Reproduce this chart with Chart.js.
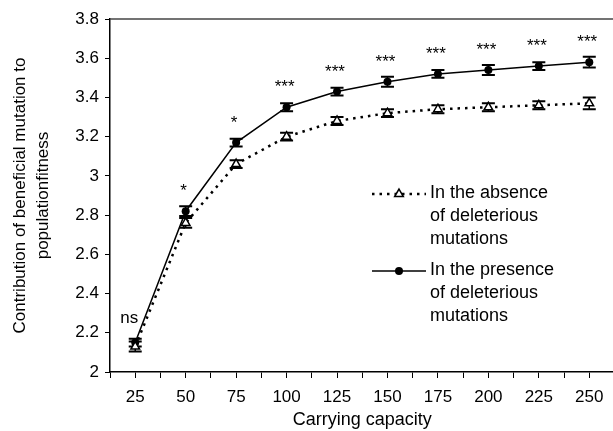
<!DOCTYPE html>
<html>
<head>
<meta charset="utf-8">
<script src="https://cdn.jsdelivr.net/npm/chart.js@4.4.1/dist/chart.umd.min.js"></script>
<style>
  html, body { margin: 0; padding: 0; background: #fff; overflow: hidden; }
  /* the original figure is cut off just before the right end of the x axis */
  #wrap { width: 613px; height: 431px; overflow: hidden; }
</style>
</head>
<body>
<div id="wrap"><canvas id="myChart" width="621" height="431"></canvas></div>
<script>
// data
const capacity = [25, 50, 75, 100, 125, 150, 175, 200, 225, 250];
const absence = [2.13, 2.76, 3.06, 3.20, 3.28, 3.32, 3.34, 3.35, 3.36, 3.37];
const absenceErr = [0.025, 0.025, 0.02, 0.02, 0.02, 0.02, 0.02, 0.02, 0.02, 0.03];
const presence = [2.15, 2.82, 3.17, 3.35, 3.43, 3.48, 3.52, 3.54, 3.56, 3.58];
const presenceErr = [0.02, 0.025, 0.02, 0.02, 0.02, 0.025, 0.02, 0.025, 0.02, 0.027];
const significance = ["ns", "*", "*", "***", "***", "***", "***", "***", "***", "***"];
const legendText = [
  ["In the absence", "of deleterious", "mutations"],
  ["In the presence", "of deleterious", "mutations"],
];
const yTitle = ["Contribution of beneficial mutation to", "populationfitness"];
const xTitle = "Carrying capacity";

const FONT = "'Liberation Sans', Arial, sans-serif";
const errs = [absenceErr, presenceErr];

function drawMarker(c, style, x, y) {
  c.save();
  c.strokeStyle = "#000";
  if (style === "circle") {
    c.fillStyle = "#000";
    c.beginPath();
    c.arc(x, y, 4, 0, Math.PI * 2);
    c.fill();
  } else {
    const r = 5;
    c.fillStyle = "#fff";
    c.lineWidth = 1.5;
    c.beginPath();
    c.moveTo(x, y - r);
    c.lineTo(x + r * Math.sin(Math.PI / 3), y + r / 2);
    c.lineTo(x - r * Math.sin(Math.PI / 3), y + r / 2);
    c.closePath();
    c.fill();
    c.stroke();
  }
  c.restore();
}

// error bars under the markers
const errorBars = {
  id: "errorBars",
  beforeDatasetsDraw(chart) {
    const c = chart.ctx;
    const yScale = chart.scales.y;
    c.save();
    c.strokeStyle = "#000";
    chart.data.datasets.forEach((ds, i) => {
      const meta = chart.getDatasetMeta(i);
      meta.data.forEach((pt, j) => {
        const v = ds.data[j].y;
        const top = yScale.getPixelForValue(v + errs[i][j]);
        const bot = yScale.getPixelForValue(v - errs[i][j]);
        c.lineWidth = 1.5;
        c.beginPath();
        c.moveTo(pt.x, top);
        c.lineTo(pt.x, bot);
        c.stroke();
        c.lineWidth = 2;
        c.beginPath();
        c.moveTo(pt.x - 6.5, top);
        c.lineTo(pt.x + 6.5, top);
        c.moveTo(pt.x - 6.5, bot);
        c.lineTo(pt.x + 6.5, bot);
        c.stroke();
      });
    });
    c.restore();
  },
};

// significance marks above the "presence" points, frame line, legend
const extras = {
  id: "extras",
  afterDraw(chart) {
    const c = chart.ctx;
    const area = chart.chartArea;
    c.save();

    // top frame line
    c.strokeStyle = "#444";
    c.lineWidth = 1.5;
    c.beginPath();
    c.moveTo(area.left, area.top);
    c.lineTo(area.right, area.top);
    c.stroke();

    // significance
    c.fillStyle = "#000";
    c.font = "17px " + FONT;
    c.textAlign = "center";
    const meta = chart.getDatasetMeta(1);
    meta.data.forEach((pt, j) => {
      const s = significance[j];
      const m = c.measureText(s);
      const centre = pt.y - 24;
      const base = centre + (m.actualBoundingBoxAscent - m.actualBoundingBoxDescent) / 2;
      c.fillText(s, pt.x - (s === "ns" ? 6 : 2), base);
    });

    // legend
    c.font = "18px " + FONT;
    c.textAlign = "left";
    c.textBaseline = "middle";
    const lx0 = area.left + 262, lx1 = area.left + 316;
    const rows = [area.top + 175, area.top + 252];
    chart.data.datasets.forEach((ds, i) => {
      const y = rows[i];
      c.strokeStyle = "#000";
      c.lineWidth = ds.borderWidth;
      c.setLineDash(ds.borderDash || []);
      c.beginPath();
      c.moveTo(lx0, y);
      c.lineTo(lx1, y);
      c.stroke();
      c.setLineDash([]);
      drawMarker(c, ds.pointStyle, (lx0 + lx1) / 2, y);
      legendText[i].forEach((line, k) => {
        c.fillText(line, lx1 + 4, y - 1 + k * 23);
      });
    });
    c.restore();
  },
};

const ctx = document.getElementById("myChart");

new Chart(ctx, {
  type: "line",
  data: {
    datasets: [
      {
        label: legendText[0].join(" "),
        data: capacity.map((c, i) => ({ x: c, y: absence[i] })),
        borderColor: "#000",
        borderWidth: 2.5,
        borderDash: [2.5, 5],
        pointStyle: "triangle",
        pointRadius: 5,
        pointBackgroundColor: "#fff",
        pointBorderColor: "#000",
        pointBorderWidth: 1.5,
        tension: 0,
      },
      {
        label: legendText[1].join(" "),
        data: capacity.map((c, i) => ({ x: c, y: presence[i] })),
        borderColor: "#000",
        borderWidth: 1.5,
        pointStyle: "circle",
        pointRadius: 4,
        pointBackgroundColor: "#000",
        pointBorderColor: "#000",
        pointBorderWidth: 0,
        tension: 0,
      },
    ],
  },
  options: {
    responsive: false,
    animation: false,
    layout: { padding: { left: 8, top: 19, right: 0, bottom: 0 } },
    plugins: {
      legend: { display: false },
      tooltip: { enabled: false },
    },
    scales: {
      x: {
        type: "linear",
        min: 12.5,
        max: 262.5,
        afterBuildTicks: (axis) => {
          axis.ticks = capacity.flatMap((c) => [{ value: c - 12.5 }, { value: c }]);
        },
        afterFit: (axis) => {
          axis.height = 59;
        },
        ticks: {
          autoSkip: false,
          maxRotation: 0,
          color: "#000",
          padding: 9,
          font: { family: FONT, size: 17 },
          callback: (v) => (capacity.includes(v) ? String(v) : ""),
        },
        grid: {
          drawOnChartArea: false,
          drawTicks: true,
          tickLength: 6,
          color: "#000",
        },
        border: { color: "#000", width: 1.5 },
        title: {
          display: true,
          text: xTitle,
          color: "#000",
          font: { family: FONT, size: 18 },
          padding: { top: 0, bottom: 0 },
        },
      },
      y: {
        min: 2,
        max: 3.8,
        afterFit: (axis) => {
          axis.width = 102;
        },
        ticks: {
          stepSize: 0.2,
          color: "#000",
          padding: 6,
          font: { family: FONT, size: 17 },
          callback: (v) => String(parseFloat(v.toFixed(1))),
        },
        grid: {
          drawOnChartArea: false,
          drawTicks: true,
          tickLength: 5,
          color: "#000",
        },
        border: { color: "#000", width: 1.5 },
        title: {
          display: true,
          text: yTitle,
          color: "#000",
          font: { family: FONT, size: 17, lineHeight: 1.4 },
          padding: { top: 0, bottom: 0 },
        },
      },
    },
  },
  plugins: [errorBars, extras],
});
</script>
</body>
</html>
